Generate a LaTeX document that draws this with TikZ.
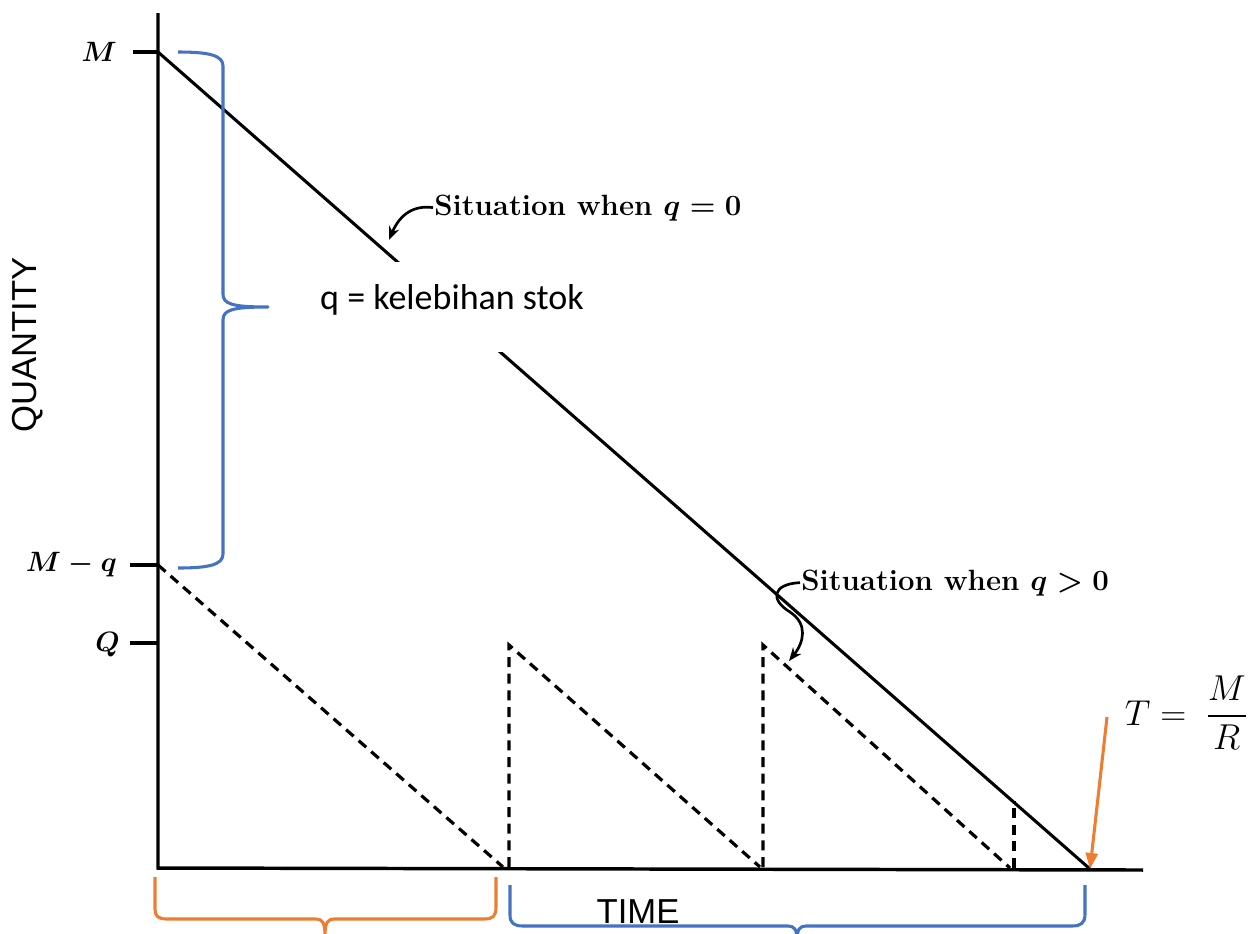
\RequirePackage{fix-cm}
\documentclass[tikz,border=0pt]{standalone}
\usepackage{amsmath, amssymb}
\usepackage{bm}
\usepackage{fontspec}
\newfontfamily\calibrifont{Carlito}
\newfontfamily\axisfont{Liberation Sans}
\usetikzlibrary{arrows.meta}

\definecolor{wordblue}{RGB}{68,114,196}
\definecolor{wordorange}{RGB}{237,125,49}

\begin{document}
\begin{tikzpicture}[x=0.75pt,y=0.75pt,yscale=-1,xscale=1,
  axisline/.style={line width=2.6pt},
  stockline/.style={line width=2.3pt},
  stockdash/.style={line width=2.4pt, dash pattern={on 7.5pt off 5pt}},
  bluebrace/.style={draw=wordblue, line width=2.3pt, line join=round},
  orangebrace/.style={draw=wordorange, line width=2.3pt, line join=round},
  ticklabel/.style={inner sep=0.75pt, anchor=east, font=\fontsize{21}{25}\selectfont\boldmath},
  sitlabel/.style={inner sep=0.75pt, anchor=base west, font=\fontsize{22}{26}\selectfont\bfseries\boldmath},
  axislabel/.style={inner sep=0.75pt, font=\fontsize{26}{30}\selectfont\axisfont},
  sitarrow/.style={line width=2pt, -{Stealth[length=10pt,width=8pt]}}
]
\path[use as bounding box] (0,0) rectangle (1252,933);

%Axes
\coordinate (O) at (158,868);
\coordinate (ytop) at (158,13);
\coordinate (xend) at (1143,870);
\coordinate (M) at (158,52);
\coordinate (Mq) at (158,565);
\coordinate (Q) at (158,643);
\coordinate (T) at (1090,869);
\draw[axisline] (ytop) -- (O) -- (xend);
\draw[axisline] (M) -- ++(-25,0);
\draw[axisline] (Mq) -- ++(-28,0);
\draw[axisline] (Q) -- ++(-28,0);

% Text Node
\node[ticklabel] (labM) at (118,52) {$M$};
% Text Node
\node[ticklabel] (labMq) at (118,565) {$M-q$};
% Text Node
\node[ticklabel] (labQ) at (121,645) {$Q$};
% Text Node
\node[axislabel, rotate=90] (quantity) at (28,345) {QUANTITY};
% Text Node
\node[axislabel, anchor=base] (time) at (638,923) {TIME};

%Situation when q = 0
\draw[stockline] (M) -- (T);

%Situation when q > 0
\coordinate (d1e) at (503,867);
\coordinate (r1b) at (509,867);
\coordinate (r1t) at (509,645);
\coordinate (d2e) at (760,867);
\coordinate (r2b) at (763,867);
\coordinate (r2t) at (763,645);
\coordinate (d3e) at (1010,868);
\coordinate (r3b) at (1014,868);
\coordinate (r3t) at (1014,801);
\draw[stockdash] (Mq) -- (d1e);
\draw[stockdash] (r1b) -- (r1t) -- (d2e);
\draw[stockdash] (r2b) -- (r2t) -- (d3e);
\draw[stockdash] (r3b) -- (r3t);

% Text Node
\node[sitlabel] (sitzero) at (433,215) {Situation when $q = 0$};
\coordinate (tipzero) at (389,240);
\draw[sitarrow] (sitzero.west) .. controls (414,205) and (400,214) .. (tipzero);
% Text Node
\node[sitlabel] (sitpos) at (800,590) {Situation when $q > 0$};
\coordinate (tippos) at (789,661);
\draw[sitarrow] (sitpos.west) .. controls (772,584) and (770,600) .. (790,612) .. controls (808,624) and (804,642) .. (tippos);

%White box with note
\fill[white] (272,262) rectangle (640,352);
% Text Node
\node[inner sep=0.75pt, font=\fontsize{27}{32}\selectfont\calibrifont] (qnote) at (452,300) {q = kelebihan stok};

%Blue brace (q)
\draw[bluebrace] (178,52) .. controls (208,52) and (223,55) .. (223,66) -- (223,294) .. controls (223,304) and (232,307) .. (268,307)
  .. controls (232,307) and (223,310) .. (223,320) -- (223,554) .. controls (223,565) and (208,568) .. (178,568);

%Orange brace
\draw[orangebrace] (155,877) -- (155,909) .. controls (155,916) and (158,919) .. (167,919) -- (316,919) .. controls (322,919) and (325,922) .. (325,936)
  .. controls (325,922) and (328,919) .. (334,919) -- (484,919) .. controls (493,919) and (496,916) .. (496,907) -- (496,877);

%Blue brace (time)
\draw[bluebrace] (510,885) -- (510,915) .. controls (510,923) and (514,926) .. (523,926) -- (788,926) .. controls (794,926) and (797,929) .. (797,940)
  .. controls (797,929) and (800,926) .. (806,926) -- (1072,926) .. controls (1081,926) and (1085,923) .. (1085,914) -- (1085,885);

% Text Node
\node[inner sep=0.75pt, font=\fontsize{27}{32}\selectfont] (Tlab) at (1186,713) {$T = \;\dfrac{M}{R}$};
\coordinate (Ttail) at (1107,717);
\draw[draw=wordorange, line width=2.3pt, -{Triangle[length=12pt,width=9pt]}] (Ttail) -- (T);

\end{tikzpicture}
\end{document}
